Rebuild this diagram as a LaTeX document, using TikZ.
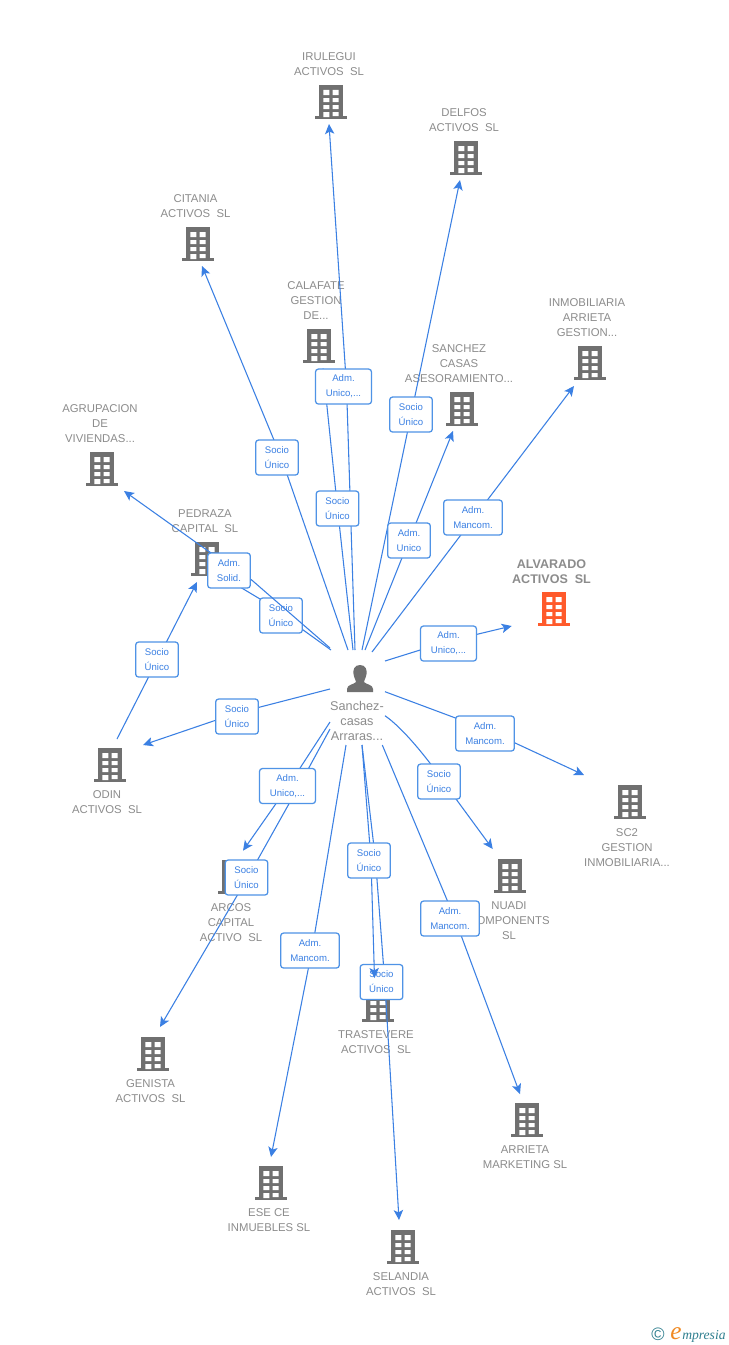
\documentclass[tikz,border=0pt]{standalone}
\usepackage{fontspec}
\setmainfont{Liberation Sans}
\newfontfamily\logofont{Liberation Serif}
\usetikzlibrary{arrows.meta}
\definecolor{linkblue}{HTML}{3B80E3}
\definecolor{boxblue}{HTML}{4F93E6}
\definecolor{iconGray}{HTML}{707070}
\definecolor{nameGray}{HTML}{8C8C8C}
\definecolor{hotOrange}{HTML}{FF5A2B}
\definecolor{logoTeal}{HTML}{2F7F8F}
\definecolor{logoOrange}{HTML}{F08A24}
\tikzset{
  x=0.75pt,y=-0.75pt,
  conn/.style={draw=linkblue,line width=0.8pt,line join=round,-{Stealth[length=7.5pt,width=7pt,inset=1.8pt]}},
  plainname/.style={align=center,text=nameGray,font=\fontsize{8.5}{11.25}\selectfont,inner sep=0pt,anchor=north,yshift=-1.5pt},
  mainname/.style={plainname,font=\fontsize{9.4}{11.25}\selectfont\bfseries},
  personname/.style={plainname,font=\fontsize{9.5}{11.25}\selectfont,yshift=0pt},
  rolebox/.style={draw=boxblue,line width=0.95pt,rounded corners=2.2pt,fill=white,align=center,text=linkblue,
    font=\fontsize{7.2}{11.25}\selectfont,inner sep=0pt,minimum height=26.25pt,yshift=-0.4pt},
  narrowbox/.style={rolebox,minimum width=32pt},
  midbox/.style={rolebox,minimum width=42pt},
  widebox/.style={rolebox,minimum width=44pt},
  pics/bldg/.style={code={
    \fill[#1] (-12,0) rectangle (12,32);
    \fill[#1] (-16,31) rectangle (16,34);
    \fill[white] (-7.7,5) rectangle (-1.7,10) (1.7,5) rectangle (7.7,10);
    \fill[white] (-7.7,13) rectangle (-1.7,17) (1.7,13) rectangle (7.7,17);
    \fill[white] (-7.7,20) rectangle (-1.7,24) (1.7,20) rectangle (7.7,24);
    \fill[white] (-7.7,27) rectangle (-1.7,32) (1.7,27) rectangle (7.7,31);
  }}
}
\begin{document}
\begin{tikzpicture}
\useasboundingbox (0,0) rectangle (728,1345);
\fill[white] (0,0) rectangle (728,1345);

% buildings
\path (331,85) pic {bldg=iconGray};
\path (466,141) pic {bldg=iconGray};
\path (198,227) pic {bldg=iconGray};
\path (319,329) pic {bldg=iconGray};
\path (462,392) pic {bldg=iconGray};
\path (590,346) pic {bldg=iconGray};
\path (102,452) pic {bldg=iconGray};
\path (207,542) pic {bldg=iconGray};
\path (554,592) pic {bldg=hotOrange};
\path (110,748) pic {bldg=iconGray};
\path (630,785) pic {bldg=iconGray};
\path (510,859) pic {bldg=iconGray};
\path (234,860) pic {bldg=iconGray};
\path (378,988) pic {bldg=iconGray};
\path (153,1037) pic {bldg=iconGray};
\path (271,1166) pic {bldg=iconGray};
\path (403,1230) pic {bldg=iconGray};
\path (527,1103) pic {bldg=iconGray};

% names
\node[plainname] (irulegui) at (329,50.5) {IRULEGUI\\ACTIVOS\ \ SL};
\node[plainname] (delfos) at (464,106.5) {DELFOS\\ACTIVOS\ \ SL};
\node[plainname] (citania) at (195.5,192.5) {CITANIA\\ACTIVOS\ \ SL};
\node[plainname] (calafate) at (316,279.5) {CALAFATE\\GESTION\\DE...};
\node[plainname] (sanchez) at (459,342.5) {SANCHEZ\\CASAS\\ASESORAMIENTO...};
\node[plainname] (inmob) at (587,296.5) {INMOBILIARIA\\ARRIETA\\GESTION...};
\node[plainname] (agrup) at (100,402.5) {AGRUPACION\\DE\\VIVIENDAS...};
\node[plainname] (pedraza) at (205,507.5) {PEDRAZA\\CAPITAL\ \ SL};
\node[mainname] (alvarado) at (551.5,557) {ALVARADO\\ACTIVOS\ \ SL};
\node[plainname] (odin) at (107,788.5) {ODIN\\ACTIVOS\ \ SL};
\node[plainname] (sc2) at (627,826.5) {SC2\\GESTION\\INMOBILIARIA...};
\node[plainname] (nuadi) at (509,899.5) {NUADI\\COMPONENTS\\SL};
\node[plainname] (arcos) at (231,901.5) {ARCOS\\CAPITAL\\ACTIVO\ \ SL};
\node[plainname] (trastevere) at (376,1028.5) {TRASTEVERE\\ACTIVOS\ \ SL};
\node[plainname] (genista) at (150.5,1077.5) {GENISTA\\ACTIVOS\ \ SL};
\node[plainname] (esece) at (269,1206.5) {ESE CE\\INMUEBLES SL};
\node[plainname] (selandia) at (401,1270.5) {SELANDIA\\ACTIVOS\ \ SL};
\node[plainname] (arrieta) at (525,1143.5) {ARRIETA\\MARKETING SL};
\node[personname] (person) at (357,699.5) {Sanchez-\\casas\\Arraras...};

% person icon
\fill[iconGray] (360,665) .. controls (354,665) and (353,670) .. (353.5,674)
  .. controls (354,678) and (356,680) .. (356,682)
  .. controls (354,684.5) and (347,684.5) .. (347,689) -- (347,692) -- (373,692) -- (373,689)
  .. controls (373,684.5) and (366,684.5) .. (364,682)
  .. controls (364,680) and (366,678) .. (366.5,674)
  .. controls (367,670) and (366,665) .. (360,665) -- cycle;

% connector ends
\coordinate (s1) at (355,650);  \coordinate (t1) at (329,124);
\coordinate (s2) at (353,650);  \coordinate (t2) at (323,368);
\coordinate (s3) at (362,650);  \coordinate (t3) at (460,180);
\coordinate (s4) at (365,650);  \coordinate (t4) at (453,431);
\coordinate (s5) at (372,652);  \coordinate (t5) at (574,386);
\coordinate (s6) at (348,650);  \coordinate (t6) at (202,266);
\coordinate (s7) at (330,648);  \coordinate (t7) at (124,491);
\coordinate (s8) at (331,650);  \coordinate (t8) at (225,578);
\coordinate (s9) at (117,739);  \coordinate (t9) at (197,582);
\coordinate (s10) at (330,689); \coordinate (t10) at (143,745);
\coordinate (s11) at (385,661); \coordinate (t11) at (511.7,626);
\coordinate (s12) at (385,691.7); \coordinate (t12) at (584,775);
\coordinate (s13) at (385,715.7); \coordinate (t13) at (492.7,849);
\coordinate (s14) at (382.3,745); \coordinate (t14) at (520,1094);
\coordinate (s15) at (362,745); \coordinate (t15) at (399,1220);
\coordinate (s16) at (362,745); \coordinate (t16) at (374.5,978);
\coordinate (s17) at (346,745); \coordinate (t17) at (271,1157);
\coordinate (s18) at (330,729); \coordinate (t18) at (160,1027);
\coordinate (s19) at (330,722); \coordinate (t19) at (243,850.7);

% connectors
\draw[conn] (s1) -- (346.5,386) -- (t1);
\draw[conn] (s2) -- (337.5,508) -- (t2);
\draw[conn] (s3) -- (t3);
\draw[conn] (s4) -- (t4);
\draw[conn] (s5) -- (t5);
\draw[conn] (s6) -- (281,457) -- (t6);
\draw[conn] (s8) -- (260,599) -- (t8);
\draw[conn] (s9) -- (t9);
\draw[conn] (s10) -- (237,713) -- (t10);
\draw[conn] (s11) -- (449,641) -- (t11);
\draw[conn] (s12) -- (485,729) -- (t12);
\draw[conn] (s13) .. controls (408,732) and (436,770) .. (456,799) -- (t13);
\draw[conn] (s14) -- (455,919) -- (t14);
\draw[conn] (s15) -- (375.5,860) -- (385,985) -- (t15);
\draw[conn] (s17) -- (312,950) -- (t17);
\draw[conn] (s18) -- (299.5,785) -- (248,877) -- (t18);
\draw[conn] (s19) -- (289,785) -- (t19);

% these two boxes lie under a later connector
\node[narrowbox] (l8) at (281,615) {Socio\\Único};
\node[narrowbox] (l15) at (381.5,981.5) {Socio\\Único};
\draw[conn] (s7) -- (251.7,580) -- (206.7,550) -- (t7);
\draw[conn] (s16) -- (371,860) -- (t16);

% role labels
\node[midbox] (l1) at (343.5,386) {Adm.\\Unico,...};
\node[narrowbox] (l2) at (337.5,508) {Socio\\Único};
\node[narrowbox] (l3) at (411,414) {Socio\\Único};
\node[narrowbox] (l4) at (409,540) {Adm.\\Unico};
\node[widebox] (l5) at (473,517) {Adm.\\Mancom.};
\node[narrowbox] (l6) at (277,457) {Socio\\Único};
\node[narrowbox] (l7) at (229,570) {Adm.\\Solid.};
\node[narrowbox] (l9) at (157,659) {Socio\\Único};
\node[narrowbox] (l10) at (237,716) {Socio\\Único};
\node[midbox] (l11) at (448.5,643) {Adm.\\Unico,...};
\node[widebox] (l12) at (485,733) {Adm.\\Mancom.};
\node[narrowbox] (l13) at (439,781) {Socio\\Único};
\node[widebox] (l14) at (450,918) {Adm.\\Mancom.};
\node[narrowbox] (l16) at (369,860) {Socio\\Único};
\node[widebox] (l17) at (310,950) {Adm.\\Mancom.};
\node[narrowbox] (l18) at (246.5,877) {Socio\\Único};
\node[midbox] (l19) at (287.5,785.5) {Adm.\\Unico,...};

% logo
\node[inner sep=0pt,text=logoTeal,font=\fontsize{13.5}{13.5}\selectfont] (copy) at (658,1334) {©};
\node[inner sep=0pt,anchor=base west,text=logoOrange,font=\logofont\itshape\fontsize{19}{19}\selectfont] (loge) at (670,1339) {e};
\node[inner sep=0pt,anchor=base west,text=logoTeal,font=\logofont\itshape\fontsize{10.2}{10.2}\selectfont] (logm) at (682,1339) {mpresia};
\end{tikzpicture}
\end{document}
